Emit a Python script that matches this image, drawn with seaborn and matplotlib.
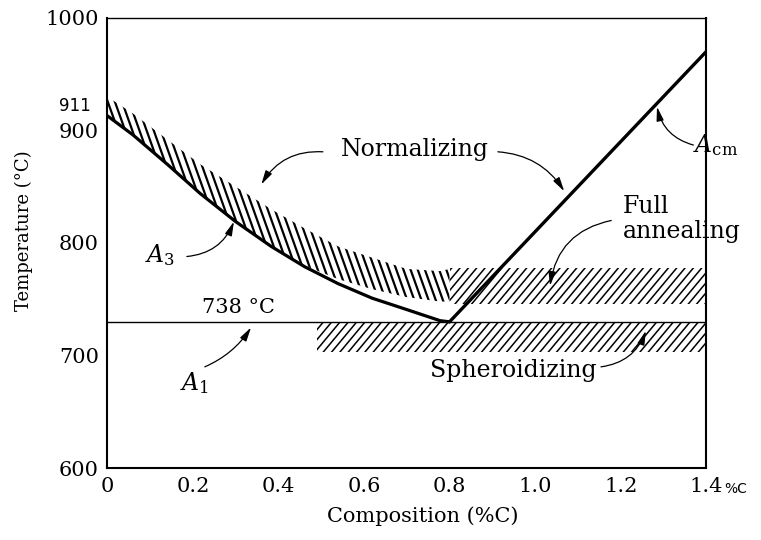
import warnings

import matplotlib

matplotlib.use("Agg")
import matplotlib.hatch as mhatch
import matplotlib.pyplot as plt
import matplotlib.transforms as mtransforms
import numpy as np
import pandas as pd
import seaborn as sns
from matplotlib.path import Path

# A3 line (hypoeutectoid)
a3_carbon = [0.0, 0.06, 0.14, 0.217, 0.30, 0.383, 0.461, 0.539, 0.619, 0.699, 0.778, 0.80]
a3_temp = [913, 896, 870, 844, 819, 797, 779, 764, 751, 741, 731, 730]

# Acm line (hypereutectoid)
acm_carbon = [0.80, 1.40]
acm_temp = [730, 970]

# A1 eutectoid line
a1_carbon = [0.0, 1.40]
a1_temp = [730, 730]

# hatched heat-treatment bands
norm_carbon = [0.0, 0.06, 0.14, 0.217, 0.30, 0.383, 0.461, 0.539, 0.619, 0.699, 0.778, 0.80]
norm_low = [913, 896, 870, 844, 819, 797, 780, 768, 759, 752, 748, 748]
norm_high = [930, 915, 892, 870, 850, 830, 813, 797, 787, 777, 775, 777]

anneal_carbon = [0.80, 1.40]
anneal_low = [746, 746]
anneal_high = [778, 778]

sphero_carbon = [0.49, 1.40]
sphero_low = [703, 703]
sphero_high = [730, 730]

x_ticks = [0, 0.2, 0.4, 0.6, 0.8, 1.0, 1.2, 1.4]
x_tick_labels = ["0", "0.2", "0.4", "0.6", "0.8", "1.0", "1.2", "1.4"]
y_ticks = [600, 700, 800, 900, 1000]


def make_slant_hatch(char, lines_per_char, shift):
    """Hatch of slanted lines; each line moves `shift` line spacings
    sideways over one tile height (positive: tops lean left)."""

    class SlantHatch(mhatch.HatchPatternBase):
        def __init__(self, hatch, density):
            self.num_lines = int(hatch.count(char) * lines_per_char)
            self.num_vertices = self.num_lines * 6

        def set_vertices_and_codes(self, vertices, codes):
            n = self.num_lines
            steps = np.linspace(0.0, 1.0, n, endpoint=False)
            lean = shift / n  # whole spacings, so tiles line up
            ext = 0.1
            for k, offset in enumerate((-1.0, 0.0, 1.0)):
                vert = vertices[2 * n * k:2 * n * (k + 1)]
                vert[0::2, 0] = steps + offset - ext * lean
                vert[0::2, 1] = 1.0 + ext
                vert[1::2, 0] = steps + offset + (1.0 + ext) * lean
                vert[1::2, 1] = -ext
            codes[0::2] = Path.MOVETO
            codes[1::2] = Path.LINETO

    return SlantHatch


mhatch._hatch_types.append(make_slant_hatch("k", 7, 5))
mhatch._hatch_types.append(make_slant_hatch("q", 6, -10))


def main() -> None:
    warnings.filterwarnings("ignore")
    sns.set_theme(style="white")
    plt.rcParams["font.family"] = ["DejaVu Serif"]
    plt.rcParams["mathtext.fontset"] = "dejavuserif"
    plt.rcParams["text.color"] = "black"
    plt.rcParams["axes.labelcolor"] = "black"

    fig = plt.figure(figsize=(7.61, 5.40), dpi=100)
    ax = fig.add_axes([0.141, 0.133, 0.787, 0.834])

    with plt.rc_context({"hatch.linewidth": 1.6}):
        ax.fill_between(norm_carbon, norm_low, norm_high, facecolor="none",
                        edgecolor="black", linewidth=0, hatch="kk")
    with plt.rc_context({"hatch.linewidth": 1.1}):
        ax.fill_between(anneal_carbon, anneal_low, anneal_high, facecolor="none",
                        edgecolor="black", linewidth=0, hatch="qq")
        ax.fill_between(sphero_carbon, sphero_low, sphero_high, facecolor="none",
                        edgecolor="black", linewidth=0, hatch="qq")

    curves = pd.DataFrame({"carbon": a3_carbon, "temp": a3_temp})
    sns.lineplot(data=curves, x="carbon", y="temp", ax=ax, color="black",
                 linewidth=2.3, estimator=None, sort=False)
    sns.lineplot(x=acm_carbon, y=acm_temp, ax=ax, color="black",
                 linewidth=2.4, estimator=None, sort=False)
    sns.lineplot(x=a1_carbon, y=a1_temp, ax=ax, color="black",
                 linewidth=1.0, estimator=None, sort=False)

    ax.set_xlim(0, 1.4)
    ax.set_ylim(600, 1000)
    ax.set_xticks(x_ticks)
    ax.set_xticklabels(x_tick_labels)
    ax.set_yticks(y_ticks)
    ax.tick_params(direction="in", length=5, width=1, labelsize=15,
                   colors="black", pad=6)
    for side, spine in ax.spines.items():
        spine.set_color("black")
        spine.set_linewidth(1.0 if side == "top" else 1.5)

    ax.set_xlabel("Composition (%C)", fontsize=15)
    ax.xaxis.set_label_coords(0.526, -0.085)
    ax.set_ylabel("Temperature (°C)", fontsize=13)
    ax.yaxis.set_label_coords(-0.124, 0.527)

    side_tf = mtransforms.blended_transform_factory(ax.transAxes, ax.transData)
    ax.text(-0.027, 922, "911", transform=side_tf, ha="right", va="center",
            fontsize=12, family=["DejaVu Sans"])
    ax.text(1.03, -0.047, "%C", transform=ax.transAxes, ha="left",
            va="center", fontsize=10, family=["DejaVu Sans"])

    label_size = 17
    ax.text(0.72, 883, "Normalizing", ha="center", va="center",
            fontsize=label_size)
    ax.text(0.123, 789, "$A_3$", ha="center", va="center", fontsize=label_size)
    ax.text(0.306, 743, "738 °C", ha="center", va="center", fontsize=15)
    ax.text(0.205, 676, "$A_1$", ha="center", va="center", fontsize=label_size)
    ax.text(1.368, 887, r"$A_{\mathrm{cm}}$", ha="left", va="center",
            fontsize=label_size)
    ax.text(1.205, 821, "Full\nannealing", ha="left", va="center",
            fontsize=label_size, linespacing=1.1)
    ax.text(0.95, 687, "Spheroidizing", ha="center", va="center",
            fontsize=label_size)

    arrows = [
        ((0.504, 881), (0.36, 852), 0.3),
        ((0.913, 881), (1.068, 846), -0.25),
        ((1.37, 887), (1.285, 921), -0.3),
        ((0.186, 788), (0.296, 819), 0.3),
        ((0.228, 690), (0.336, 725), 0.15),
        ((1.178, 820), (1.035, 762), 0.35),
        ((1.154, 690), (1.259, 722), 0.3),
    ]
    for start, head, rad in arrows:
        ax.annotate(
            "", xy=head, xytext=start,
            arrowprops=dict(arrowstyle="-|>,head_length=0.7,head_width=0.18",
                            connectionstyle=f"arc3,rad={rad}",
                            color="black", lw=0.9, shrinkA=0, shrinkB=0),
            annotation_clip=False,
        )

    fig.savefig("out.png", dpi=100)
    plt.close(fig)


if __name__ == "__main__":
    main()
